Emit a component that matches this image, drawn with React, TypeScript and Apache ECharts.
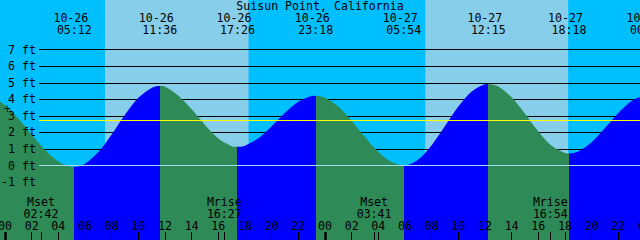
import React, { useEffect, useRef } from "react";
import * as echarts from "echarts";

// ---- data ----
const stationTitle = "Suisun Point, California";

const tideEventDates = ["10-26", "10-26", "10-26", "10-26", "10-27", "10-27", "10-27", "10-28"];
const tideEventTimes = ["05:12", "11:36", "17:26", "23:18", "05:54", "12:15", "18:18", "00:11"];
const tideEventKinds = ["low", "high", "low", "high", "low", "high", "low", "high"];
const tideEventFeet = [-0.08, 4.8, 1.13, 4.22, 0.02, 4.93, 0.73, 4.24];

// heights read on the hour, from hour -1 (10-25 23:00) to hour 48 (10-28 00:00)
const hourlyFirstHour = -1;
const hourlyFeet = [
  4.12, 3.65, 2.84, 1.87, 0.94, 0.25, -0.07, 0.11, 0.81, 1.88,
  3.07, 4.09, 4.69, 4.76, 4.22, 3.4, 2.45, 1.63, 1.17, 1.2,
  1.64, 2.37, 3.19, 3.86, 4.2, 4.1, 3.57, 2.71, 1.72, 0.82,
  0.21, 0.02, 0.37, 1.23, 2.38, 3.56, 4.47, 4.91, 4.77, 4.12,
  3.13, 2.06, 1.19, 0.76, 0.85, 1.4, 2.26, 3.17, 3.9, 4.23,
];

const sunDates = ["10-26", "10-26", "10-27", "10-27"];
const sunTimes = ["07:30", "18:16", "07:31", "18:14"];
const sunKinds = ["rise", "set", "rise", "set"];

const moonDates = ["10-26", "10-26", "10-27", "10-27"];
const moonTimes = ["02:42", "16:27", "03:41", "16:54"];
const moonKinds = ["Mset", "Mrise", "Mset", "Mrise"];

const ftLevels = [-1, 0, 1, 2, 3, 4, 5, 6, 7];
const hourTicks = [0, 2, 4, 6, 8, 10, 12, 14, 16, 18, 20, 22, 24, 26, 28, 30, 32, 34, 36, 38, 40, 42, 44, 46, 48];
const datumFeet = 0;
const meanLevelFeet = 2.73;
const crossMarkDate = "10-26";
const crossMarkTime = "00:11";
const crossMarkFeet = 3.41;

// ---- styling ----
const FONT = "'DejaVu Sans Mono', 'Liberation Mono', monospace";
const FS = 11.6;
const DAY = "#87CEEB";
const NIGHT = "#00BFFF";
const FLOOD = "#0000FF";
const EBB = "#2E8B57";
const DATUM = "#A6DCEF";
const MSL = "#FFFF00";

const X_MIN = -0.375;
const X_MAX = 48.375;
const PX_PER_HOUR = 640 / 48;
const GRID_W = (X_MAX - X_MIN) * PX_PER_HOUR;
const Y_MIN = -4.5;
const Y_MAX = 10;

function toHours(date: string, time: string): number {
  const day = parseInt(date.split("-")[1], 10);
  const [h, m] = time.split(":").map(Number);
  return (day - 26) * 24 + h + m / 60;
}

function findIndex(arr: number[], v: number): number {
  let best = 0;
  for (let i = 0; i < arr.length; i++) {
    if (Math.abs(arr[i] - v) < Math.abs(arr[best] - v)) best = i;
  }
  return best;
}

function pad2(n: number): string {
  const v = ((Math.round(n) % 24) + 24) % 24;
  return v < 10 ? "0" + v : String(v);
}

function buildOption() {
  const eventHours = tideEventDates.map((d, i) => toHours(d, tideEventTimes[i]));
  const moonHours = moonDates.map((d, i) => toHours(d, moonTimes[i]));
  const sunHours = sunDates.map((d, i) => toHours(d, sunTimes[i]));
  const midnightHours = hourTicks.filter((h) => h % 24 === 0);

  const tidePoints: [number, number][] = hourlyFeet.map((v, i) => [hourlyFirstHour + i, v] as [number, number]);
  eventHours.forEach((h, i) => tidePoints.push([h, tideEventFeet[i]]));
  tidePoints.sort((a, b) => a[0] - b[0]);

  const pieces: any[] = [];
  pieces.push({ lt: eventHours[0], color: tideEventKinds[0] === "low" ? EBB : FLOOD });
  eventHours.forEach((h, i) => {
    const color = tideEventKinds[i] === "low" ? FLOOD : EBB;
    if (i < eventHours.length - 1) pieces.push({ gte: h, lt: eventHours[i + 1], color });
    else pieces.push({ gte: h, color });
  });

  const dayAreas: any[] = [];
  sunKinds.forEach((k, i) => {
    if (k === "rise") {
      const end = i + 1 < sunHours.length ? sunHours[i + 1] : X_MAX;
      dayAreas.push([{ xAxis: sunHours[i] }, { xAxis: end }]);
    }
  });

  const textBase = { fontFamily: FONT, fontSize: FS, color: "#000" };

  return {
    animation: false,
    backgroundColor: NIGHT,
    title: {
      text: stationTitle,
      left: "center",
      top: 0,
      padding: 0,
      textStyle: { ...textBase, fontWeight: "normal", lineHeight: 12 },
    },
    grid: [
      { left: 0, top: 0, width: GRID_W, height: 240, containLabel: false, outerBoundsMode: "none" },
      { left: 39, top: 0, width: GRID_W - 39, height: 240, containLabel: false, outerBoundsMode: "none" },
    ],
    visualMap: {
      type: "piecewise",
      show: false,
      dimension: 0,
      seriesIndex: 2,
      pieces,
    },
    xAxis: [
      {
        gridIndex: 0,
        type: "value",
        min: X_MIN,
        max: X_MAX,
        position: "bottom",
        z: 10,
        axisLine: { show: false, onZero: false },
        splitLine: { show: false },
        axisTick: { show: true, inside: true, length: 8, customValues: hourTicks, lineStyle: { color: "#000", width: 1 } },
        axisLabel: {
          show: true,
          inside: true,
          customValues: hourTicks,
          margin: 9,
          verticalAlign: "bottom",
          lineHeight: 11,
          ...textBase,
          formatter: (v: number) => pad2(v),
        },
      },
      { gridIndex: 1, type: "value", min: 0, max: 1, show: false },
      {
        gridIndex: 0,
        type: "value",
        min: X_MIN,
        max: X_MAX,
        position: "bottom",
        z: 11,
        axisLine: { show: false, onZero: false },
        splitLine: { show: false },
        axisTick: { show: true, inside: true, length: 8, customValues: midnightHours, lineStyle: { color: "#000", width: 2.5 } },
        axisLabel: { show: false },
      },
      {
        gridIndex: 0,
        type: "value",
        min: X_MIN,
        max: X_MAX,
        position: "bottom",
        z: 10,
        axisLine: { show: false, onZero: false },
        splitLine: { show: false },
        axisTick: { show: true, inside: true, length: 8, customValues: moonHours, lineStyle: { color: "#000", width: 1 } },
        axisLabel: {
          show: true,
          inside: true,
          customValues: moonHours,
          margin: 20.5,
          verticalAlign: "bottom",
          lineHeight: 11.8,
          ...textBase,
          formatter: (v: number) => {
            const i = findIndex(moonHours, v);
            return moonKinds[i] + "\n" + moonTimes[i];
          },
        },
      },
      {
        gridIndex: 0,
        type: "value",
        min: X_MIN,
        max: X_MAX,
        position: "top",
        z: 10,
        axisLine: { show: false, onZero: false },
        splitLine: { show: false },
        axisTick: { show: false },
        axisLabel: {
          show: true,
          inside: true,
          customValues: eventHours,
          margin: 11.7,
          verticalAlign: "top",
          lineHeight: 12.5,
          ...textBase,
          formatter: (v: number) => {
            const i = findIndex(eventHours, v);
            return tideEventDates[i] + "\u00a0\n" + tideEventTimes[i];
          },
        },
      },
    ],
    yAxis: [
      {
        gridIndex: 0,
        type: "value",
        min: Y_MIN,
        max: Y_MAX,
        show: false,
        axisLine: { show: false, onZero: false },
        splitLine: { show: false },
      },
      {
        gridIndex: 1,
        type: "value",
        min: Y_MIN,
        max: Y_MAX,
        z: 10,
        axisLine: { show: false, onZero: false },
        axisTick: { show: false },
        splitLine: { show: false },
        axisLabel: {
          show: true,
          customValues: ftLevels,
          margin: 3,
          align: "right",
          ...textBase,
          formatter: (v: number) => `${v} ft`,
        },
      },
    ],
    series: [
      {
        type: "line",
        xAxisIndex: 0,
        yAxisIndex: 0,
        data: [],
        z: 1,
        silent: true,
        markArea: {
          z: 1,
          silent: true,
          itemStyle: { color: DAY, opacity: 1 },
          label: { show: false },
          data: dayAreas,
        },
      },
      {
        type: "line",
        xAxisIndex: 1,
        yAxisIndex: 1,
        data: [],
        z: 2,
        silent: true,
        markLine: {
          z: 2,
          silent: true,
          symbol: ["none", "none"],
          label: { show: false },
          lineStyle: { color: "#000", width: 1, type: "solid" },
          data: ftLevels.map((v) => ({ yAxis: v })),
        },
      },
      {
        type: "line",
        xAxisIndex: 0,
        yAxisIndex: 0,
        z: 3,
        smooth: 0.3,
        showSymbol: false,
        silent: true,
        lineStyle: { width: 0 },
        areaStyle: { opacity: 1, origin: "start" },
        data: tidePoints,
      },
      {
        type: "line",
        xAxisIndex: 1,
        yAxisIndex: 1,
        data: [],
        z: 4,
        silent: true,
        markLine: {
          z: 4,
          silent: true,
          symbol: ["none", "none"],
          label: { show: false },
          data: [
            { yAxis: datumFeet, lineStyle: { color: DATUM, width: 1, type: "solid" } },
            { yAxis: meanLevelFeet, lineStyle: { color: MSL, width: 1, type: "solid" } },
          ],
        },
      },
      {
        type: "scatter",
        xAxisIndex: 0,
        yAxisIndex: 0,
        z: 5,
        silent: true,
        symbolSize: 1,
        itemStyle: { color: "transparent" },
        label: {
          show: true,
          position: "inside",
          formatter: "+",
          ...textBase,
          fontSize: 12,
        },
        data: [[toHours(crossMarkDate, crossMarkTime), crossMarkFeet]],
      },
    ],
  };
}

export default function App() {
  const ref = useRef<HTMLDivElement>(null);
  useEffect(() => {
    if (!ref.current) return;
    const chart = echarts.init(ref.current, null, { renderer: "svg" });
    chart.setOption(buildOption() as any);
    return () => chart.dispose();
  }, []);
  return (
    <div
      ref={ref}
      style={{ position: "fixed", left: 0, top: 0, width: 640, height: 240, overflow: "hidden" }}
    />
  );
}
